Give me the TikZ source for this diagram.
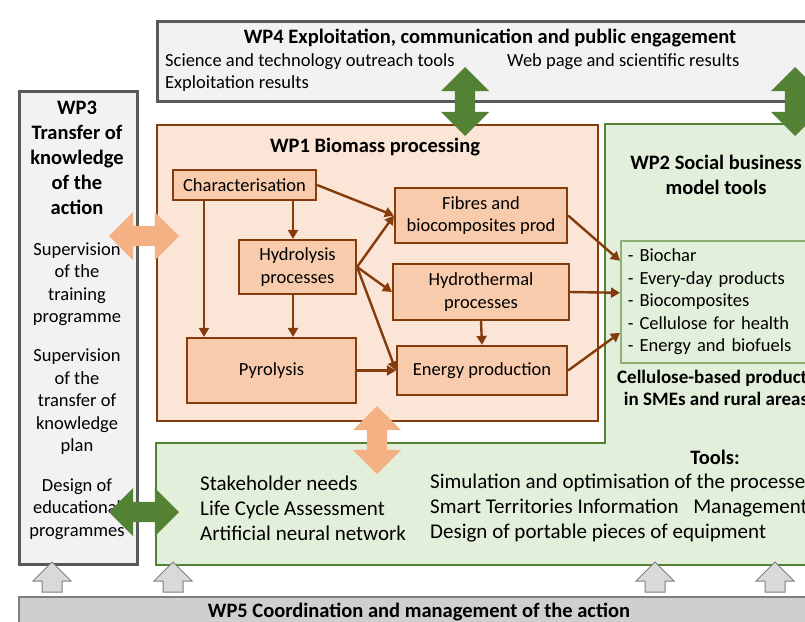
\documentclass[tikz,border=0pt]{standalone}
\usepackage{fontspec}
\setmainfont{Carlito}
\usetikzlibrary{arrows.meta,shapes.arrows}

\definecolor{wpgrey}{HTML}{F2F2F2}
\definecolor{wpgreyline}{HTML}{595959}
\definecolor{wp1fill}{HTML}{FBE5D6}
\definecolor{wp1line}{HTML}{843C0C}
\definecolor{procfill}{HTML}{F8CBAD}
\definecolor{wp2fill}{HTML}{E2EFDA}
\definecolor{wp2line}{HTML}{548235}
\definecolor{listline}{HTML}{8FAF7A}
\definecolor{peach}{HTML}{F4B183}
\definecolor{wp5fill}{HTML}{D0CECE}
\definecolor{wp5line}{HTML}{7F7F7F}
\definecolor{upfill}{HTML}{D9D9D9}

\newcommand{\wpbody}{\fontsize{18.5}{22.5}\selectfont}
\newcommand{\wptitle}{\fontsize{20.5}{25}\selectfont\bfseries}
\newcommand{\wpsub}{\fontsize{19}{22}\selectfont\bfseries}
\newcommand{\toolsfont}{\fontsize{21}{25}\selectfont}

\begin{document}
\begin{tikzpicture}[x=1pt,y=-1pt,
	txt/.style={inner sep=0pt},
	wpbox/.style={draw=wpgreyline, fill=wpgrey, line width=2.5pt},
	procbox/.style={draw=wp1line, fill=procfill, line width=2.2pt, inner sep=0pt, align=center, font=\wpbody},
	flow/.style={draw=wp1line, line width=2.4pt, -{Triangle[length=9pt,width=10pt]}},
	link/.style={double arrow, double arrow head extend=14pt, double arrow head indent=0pt, inner xsep=0pt, inner ysep=10pt, minimum width=0pt},
	uparrow/.style={single arrow, single arrow head extend=9pt, inner xsep=0pt, inner ysep=9.5pt, minimum width=0pt, minimum height=30pt, rotate=90, fill=upfill, draw=wp5line, line width=1pt}]
	\useasboundingbox (0,0) rectangle (805,621);
	\clip (0,0) rectangle (805,621);
	\fill[white] (0,0) rectangle (805,621);

	\node[wpbox, minimum width=674pt, minimum height=80pt, anchor=north west] (wp4) at (156,20) {};
	\node[wpbox, minimum width=118pt, minimum height=473pt, anchor=north west] (wp3) at (18,90) {};
	\node[draw=wp1line, fill=wp1fill, line width=2.4pt, minimum width=441pt, minimum height=296pt, anchor=north west] (wp1) at (156,124) {};
	\draw[wp2line, fill=wp2fill, line width=2.4pt] (156,443) -- (605,443) -- (605,124) -- (830,124) -- (830,565) -- (156,565) -- cycle;

	\node[txt, font=\wptitle] (wp4title) at (490,38) {WP4 Exploitation, communication and public engagement};
	\node[txt, font=\wpbody, anchor=west] (outreach) at (165,62) {Science and technology outreach tools};
	\node[txt, font=\wpbody, anchor=west] (webpage) at (507,62) {Web page and scientific results};
	\node[txt, font=\wpbody, anchor=west] (results) at (165,84) {Exploitation results};

	\node[txt, font=\wptitle, align=center] (wp3title) at (77,158) {WP3\\Transfer of\\knowledge\\of the\\action};
	\node[txt, font=\wpbody, align=center] (training) at (77,284) {Supervision\\of the\\training\\programme};
	\node[txt, font=\wpbody, align=center] (transfer) at (77,402) {Supervision\\of the\\transfer of\\knowledge\\plan};
	\node[txt, font=\wpbody, align=center] (design) at (77,509) {Design of\\educational\\programmes};

	\node[txt, font=\wptitle] (wp1title) at (375,147) {WP1 Biomass processing};
	\node[procbox, minimum width=143pt, minimum height=30pt] (char) at (244.5,185) {Characterisation};
	\node[procbox, minimum width=117pt, minimum height=54pt] (hydro) at (297.5,267) {Hydrolysis\\processes};
	\node[procbox, minimum width=172pt, minimum height=55pt] (fibres) at (481,215.5) {Fibres and\\biocomposites prod};
	\node[procbox, minimum width=176pt, minimum height=56pt] (thermal) at (481,292) {Hydrothermal\\processes};
	\node[procbox, minimum width=169pt, minimum height=65pt] (pyro) at (271.5,370.5) {Pyrolysis};
	\node[procbox, minimum width=170pt, minimum height=49pt] (energy) at (482,370.5) {Energy production};

	\node[txt, font=\wptitle, align=center] (wp2title) at (716,175) {WP2 Social business\\model tools};
	\node[draw=listline, fill=wp2fill, line width=1.6pt, anchor=north west, minimum height=122pt, text width=186pt, inner xsep=7pt, align=left, font=\wpbody] (list) at (620,240) {- Biochar\\- Every-day products\\- Biocomposites\\- Cellulose for health\\- Energy and biofuels};
	\node[txt, font=\wpsub, align=center] (products) at (716,388) {Cellulose-based products\\in SMEs and rural areas};

	\draw[flow] (char.east) -- (fibres.west);
	\draw[flow] ([xshift=-40.5pt]char.south) -- ([xshift=-40.5pt]char.south |- pyro.north);
	\draw[flow] ([xshift=48.5pt]char.south) -- ([xshift=48.5pt]char.south |- hydro.north);
	\draw[flow] ([xshift=-4.5pt]hydro.south) -- ([xshift=-4.5pt]hydro.south |- pyro.north);
	\draw[flow] (hydro.east) -- (fibres.west);
	\draw[flow] (hydro.east) -- (thermal.west);
	\draw[flow] (hydro.east) -- (energy.west);
	\draw[flow] (pyro.east) -- (energy.west);
	\draw[flow] (thermal.south) -- (energy.north);
	\draw[flow] (fibres.east) -- ([yshift=41pt]list.west);
	\draw[flow] (thermal.east) -- ([yshift=9pt]list.west);
	\draw[flow] (energy.east) -- ([yshift=-31pt]list.west);

	\node[txt, font=\wptitle] (toolstitle) at (715,457) {Tools:};
	\node[txt, font=\toolsfont, align=left, anchor=west] (toolsa) at (200,508) {Stakeholder needs\\Life Cycle Assessment\\Artificial neural network};
	\node[txt, font=\toolsfont, align=left, anchor=west] (toolsb) at (430,508) {Simulation and optimisation of the processes\\Smart Territories Information\hspace{10pt} Management\\Design of portable pieces of equipment};

	\foreach \x [count=\i] in {52,173,655,775}
		\node[uparrow] (up\i) at (\x,582) {};
	\node[draw=wp5line, fill=wp5fill, line width=2pt, minimum width=812pt, minimum height=45pt, anchor=north west] (wp5) at (18,596) {};
	\node[txt, font=\wptitle] (wp5title) at (419,612) {WP5 Coordination and management of the action};

	\node[link, fill=wp2line, minimum height=69pt, rotate=90] (lk41) at (465,101.5) {};
	\node[link, fill=wp2line, minimum height=69pt, rotate=90] (lk42) at (795,101.5) {};
	\node[link, fill=peach, minimum height=70pt] (lk31) at (144,236) {};
	\node[link, fill=peach, minimum height=68pt, rotate=90] (lk12) at (377,440) {};
	\node[link, fill=wp2line, minimum height=70pt] (lk32) at (144,512) {};
\end{tikzpicture}
\end{document}
